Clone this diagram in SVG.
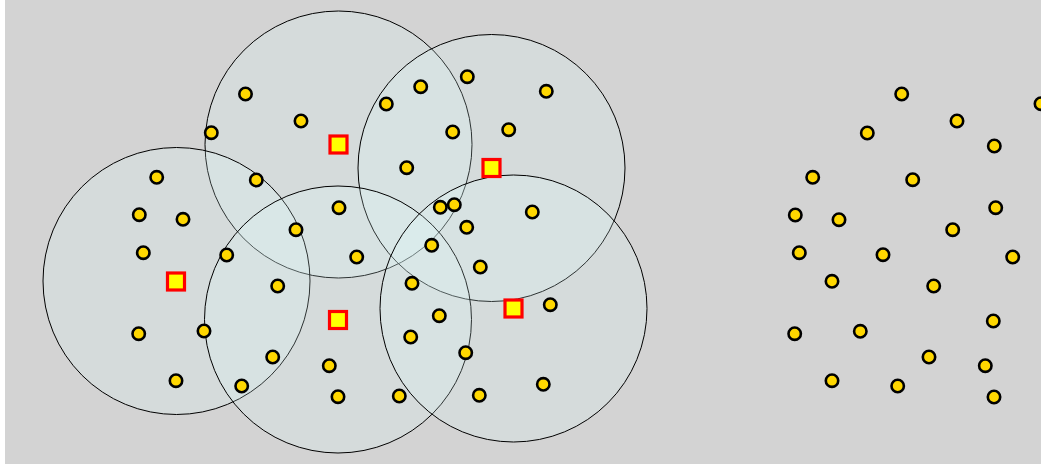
<svg xmlns="http://www.w3.org/2000/svg" width="1041" height="464" viewBox="0 0 1041 464">
<style>
.range{fill:#e0ffff;fill-opacity:0.2;stroke:#000;stroke-width:1}
.dot{fill:#ffd700;stroke:#000;stroke-width:2.6}
.hub{fill:#ffff00;stroke:#ff0000;stroke-width:3.2}
</style>
<rect x="0" y="0" width="1041" height="464" fill="#ffffff"/>
<rect x="5" y="0" width="1036" height="464" fill="#d3d3d3"/>
<g id="ranges">
<circle class="range" cx="338.5" cy="144.5" r="133.5"/>
<circle class="range" cx="491.5" cy="168" r="133.5"/>
<circle class="range" cx="176.5" cy="281" r="133.5"/>
<circle class="range" cx="338" cy="319.5" r="133.5"/>
<circle class="range" cx="513.5" cy="308.5" r="133.5"/>
</g>
<g id="sensors-left">
<circle class="dot" cx="245.5" cy="94" r="6.2"/>
<circle class="dot" cx="301" cy="121" r="6.2"/>
<circle class="dot" cx="211.3" cy="132.7" r="6.2"/>
<circle class="dot" cx="156.7" cy="177.3" r="6.2"/>
<circle class="dot" cx="256.3" cy="180" r="6.2"/>
<circle class="dot" cx="139.3" cy="214.7" r="6.2"/>
<circle class="dot" cx="183" cy="219.3" r="6.2"/>
<circle class="dot" cx="339" cy="207.7" r="6.2"/>
<circle class="dot" cx="296" cy="229.7" r="6.2"/>
<circle class="dot" cx="143.3" cy="252.7" r="6.2"/>
<circle class="dot" cx="226.7" cy="255" r="6.2"/>
<circle class="dot" cx="356.7" cy="257" r="6.2"/>
<circle class="dot" cx="277.7" cy="286" r="6.2"/>
<circle class="dot" cx="138.7" cy="333.7" r="6.2"/>
<circle class="dot" cx="204" cy="331" r="6.2"/>
<circle class="dot" cx="272.7" cy="357" r="6.2"/>
<circle class="dot" cx="176" cy="380.7" r="6.2"/>
<circle class="dot" cx="241.7" cy="386" r="6.2"/>
<circle class="dot" cx="329.3" cy="365.7" r="6.2"/>
<circle class="dot" cx="338" cy="396.7" r="6.2"/>
<circle class="dot" cx="386.3" cy="104" r="6.2"/>
<circle class="dot" cx="420.7" cy="86.7" r="6.2"/>
<circle class="dot" cx="467.3" cy="76.7" r="6.2"/>
<circle class="dot" cx="546.3" cy="91.3" r="6.2"/>
<circle class="dot" cx="452.7" cy="132" r="6.2"/>
<circle class="dot" cx="508.7" cy="129.7" r="6.2"/>
<circle class="dot" cx="406.7" cy="167.7" r="6.2"/>
<circle class="dot" cx="440.3" cy="207.3" r="6.2"/>
<circle class="dot" cx="454.3" cy="204.7" r="6.2"/>
<circle class="dot" cx="532.3" cy="212" r="6.2"/>
<circle class="dot" cx="466.7" cy="227.3" r="6.2"/>
<circle class="dot" cx="431.7" cy="245.3" r="6.2"/>
<circle class="dot" cx="480.3" cy="267" r="6.2"/>
<circle class="dot" cx="412" cy="283.3" r="6.2"/>
<circle class="dot" cx="439.3" cy="315.7" r="6.2"/>
<circle class="dot" cx="410.7" cy="337" r="6.2"/>
<circle class="dot" cx="465.7" cy="352.7" r="6.2"/>
<circle class="dot" cx="550.3" cy="304.7" r="6.2"/>
<circle class="dot" cx="399.3" cy="396" r="6.2"/>
<circle class="dot" cx="479.3" cy="395.3" r="6.2"/>
<circle class="dot" cx="543.3" cy="384.3" r="6.2"/>
</g>
<g id="hubs">
<rect class="hub" x="330" y="136" width="17" height="17"/>
<rect class="hub" x="483" y="159.5" width="17" height="17"/>
<rect class="hub" x="167.5" y="273" width="17" height="17"/>
<rect class="hub" x="329.5" y="311.5" width="17" height="17"/>
<rect class="hub" x="505" y="300" width="17" height="17"/>
</g>
<g id="sensors-right">
<circle class="dot" cx="901.7" cy="94" r="6.2"/>
<circle class="dot" cx="1041" cy="103.7" r="6.2"/>
<circle class="dot" cx="957" cy="121" r="6.2"/>
<circle class="dot" cx="867.3" cy="133" r="6.2"/>
<circle class="dot" cx="994.3" cy="146" r="6.2"/>
<circle class="dot" cx="812.7" cy="177.3" r="6.2"/>
<circle class="dot" cx="912.7" cy="179.7" r="6.2"/>
<circle class="dot" cx="795.3" cy="215" r="6.2"/>
<circle class="dot" cx="839" cy="219.7" r="6.2"/>
<circle class="dot" cx="995.7" cy="207.7" r="6.2"/>
<circle class="dot" cx="952.7" cy="229.7" r="6.2"/>
<circle class="dot" cx="799.3" cy="252.7" r="6.2"/>
<circle class="dot" cx="883" cy="254.7" r="6.2"/>
<circle class="dot" cx="1012.7" cy="257" r="6.2"/>
<circle class="dot" cx="832" cy="281.3" r="6.2"/>
<circle class="dot" cx="933.7" cy="286" r="6.2"/>
<circle class="dot" cx="993.3" cy="321" r="6.2"/>
<circle class="dot" cx="794.7" cy="333.7" r="6.2"/>
<circle class="dot" cx="860.3" cy="331.3" r="6.2"/>
<circle class="dot" cx="929" cy="357" r="6.2"/>
<circle class="dot" cx="985.3" cy="365.7" r="6.2"/>
<circle class="dot" cx="832" cy="380.7" r="6.2"/>
<circle class="dot" cx="897.7" cy="386" r="6.2"/>
<circle class="dot" cx="994" cy="397" r="6.2"/>
</g>
</svg>
